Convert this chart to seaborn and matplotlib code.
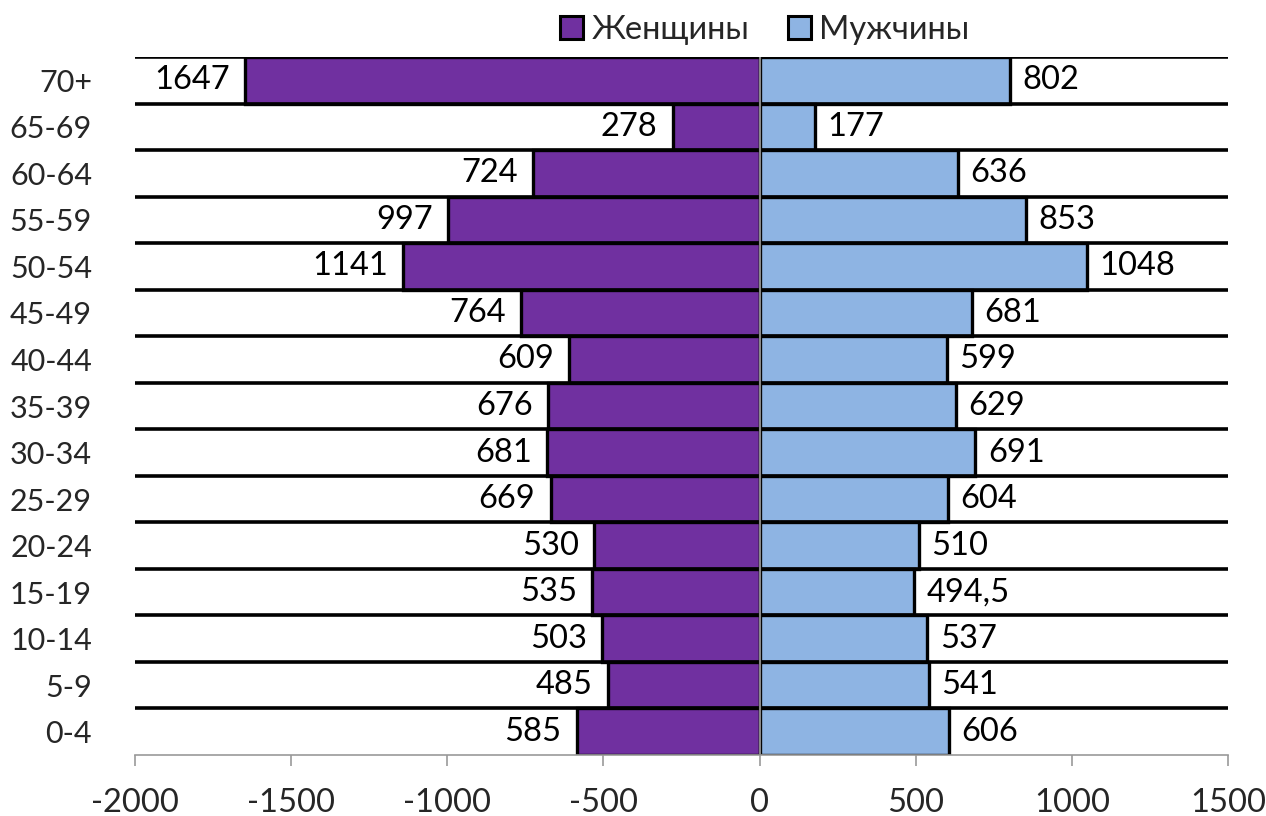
import matplotlib
matplotlib.use("Agg")
import matplotlib.pyplot as plt
import seaborn as sns
import pandas as pd
from matplotlib.patches import Patch

ages = ["70+", "65-69", "60-64", "55-59", "50-54", "45-49", "40-44", "35-39",
        "30-34", "25-29", "20-24", "15-19", "10-14", "5-9", "0-4"]
women = [1647, 278, 724, 997, 1141, 764, 609, 676, 681, 669, 530, 535, 503, 485, 585]
men = [802, 177, 636, 853, 1048, 681, 599, 629, 691, 604, 510, 494.5, 537, 541, 606]
series_names = ["Женщины", "Мужчины"]
colors = ["#7030A0", "#8EB4E3"]
xticks = [-2000, -1500, -1000, -500, 0, 500, 1000, 1500]

sns.set_theme(style="white")
plt.rcParams['font.family'] = ['Lato', 'DejaVu Sans']
FS = 23.5

df = pd.DataFrame({
    "age": ages * 2,
    "value": [-w for w in women] + men,
    "sex": [series_names[0]] * len(ages) + [series_names[1]] * len(ages),
})

fig = plt.figure(figsize=(12.66, 8.16), dpi=100)
ax = fig.add_axes([135 / 1266, 1 - 755 / 816, (1228 - 135) / 1266, (755 - 57) / 816])

sns.barplot(data=df, y="age", x="value", hue="sex", order=ages,
            hue_order=series_names, palette=colors, dodge=False, width=1.0,
            orient="h", edgecolor="black", linewidth=2.4, legend=False, ax=ax,
            saturation=1)

n = len(ages)
ax.set_ylim(n - 0.5, -0.5)
ax.set_xlim(-2000, 1500)

# black band lines
for b in range(n):
    ax.axhline(b - 0.5, color="black", lw=2.6, zorder=3)

ax.axvline(0, color="#888888", lw=1.5, zorder=4)

def fmt(v):
    s = f"{v:g}"
    return s.replace(".", ",")

for i, (w, m) in enumerate(zip(women, men)):
    ax.annotate(fmt(w), xy=(-w, i), xytext=(-11, 0), textcoords="offset points",
                ha="right", va="center", fontsize=FS, color="black")
    ax.annotate(fmt(m), xy=(m, i), xytext=(9, 0), textcoords="offset points",
                ha="left", va="center", fontsize=FS, color="black")

ax.set_xticks(xticks)
ax.set_xticklabels([str(t) for t in xticks], fontsize=FS)
ax.tick_params(axis="x", which="both", bottom=True, length=8, width=1.2,
               color="#999999", pad=16)
ax.tick_params(axis="y", left=False, labelsize=22, pad=25)
ax.set_xlabel("")
ax.set_ylabel("")
for s in ["top", "right", "left"]:
    ax.spines[s].set_visible(False)
ax.spines["bottom"].set_color("#999999")
ax.spines["bottom"].set_linewidth(1.2)

handles = [Patch(facecolor=c, edgecolor="black", linewidth=2.2) for c in colors]
fig.legend(handles, series_names, loc="center", bbox_to_anchor=(765 / 1266, 1 - 30 / 816),
           ncol=2, frameon=False, fontsize=FS, handlelength=0.7, handleheight=0.7,
           handletextpad=0.25, columnspacing=1.2)

fig.savefig("out.png", dpi=100)
